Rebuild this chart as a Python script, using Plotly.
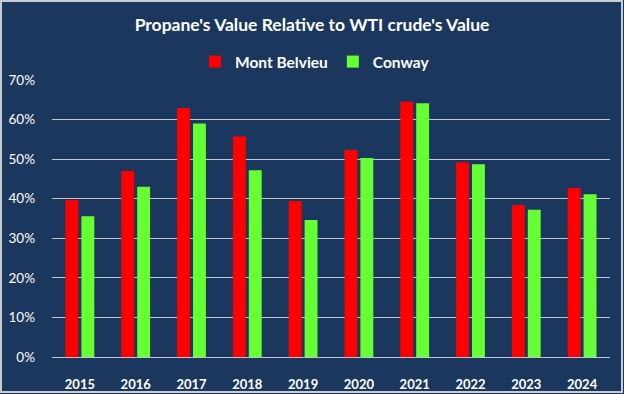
import plotly.graph_objects as go

years = ["2015", "2016", "2017", "2018", "2019", "2020", "2021", "2022", "2023", "2024"]
mont_belvieu = [0.397, 0.470, 0.629, 0.557, 0.394, 0.523, 0.645, 0.492, 0.384, 0.427]
conway = [0.356, 0.430, 0.590, 0.472, 0.346, 0.503, 0.641, 0.487, 0.372, 0.411]
y_ticks = [0, 0.1, 0.2, 0.3, 0.4, 0.5, 0.6, 0.7]

W, H = 624, 394
ML, MR, MT, MB = 52, 14, 80, 37
BG = "#1C375E"
FONT = "Lato, Roboto, Liberation Sans, Arial"
pw, ph = W - ML - MR, H - MT - MB

fig = go.Figure()
fig.add_trace(go.Bar(name="<b>Mont Belvieu</b>", x=years, y=mont_belvieu, marker=dict(color="#FF0000", line=dict(width=0))))
fig.add_trace(go.Bar(name="<b>Conway</b>", x=years, y=conway, marker=dict(color="#66FF33", line=dict(width=0))))

fig.update_layout(
    width=W, height=H,
    margin=dict(l=ML, r=MR, t=MT, b=MB, autoexpand=False),
    paper_bgcolor=BG, plot_bgcolor=BG,
    barmode="group", bargap=0.43, bargroupgap=0.19,
    title=dict(text="<b>Propane's Value Relative to WTI crude's Value</b>",
               x=0.5, xanchor="center", y=1 - 25 / H, yanchor="middle",
               font=dict(family=FONT, size=17.5, color="white")),
    legend=dict(orientation="h", xref="container", x=315 / W, xanchor="center", yref="container",
                y=1 - 62 / H, yanchor="middle",
                font=dict(family=FONT, size=15.5, color="white"), bgcolor="rgba(0,0,0,0)",
                itemwidth=30, traceorder="normal"),
    font=dict(family=FONT, color="white"),
    xaxis=dict(showgrid=False, tickfont=dict(family=FONT, size=13, color="white"), automargin=False,
               ticklabelstandoff=18, showline=False, tickprefix="<b>", ticksuffix="</b>"),
    yaxis=dict(range=[0, 0.7], tickvals=y_ticks, tickformat=".0%", automargin=False,
               tickfont=dict(family=FONT, size=13.5, color="white"),
               gridcolor="#BFC6D0", gridwidth=1.3, zeroline=True, zerolinecolor="#BFC6D0", zerolinewidth=1.3,
               ticklabelstandoff=16, tickprefix="<b>", ticksuffix="</b>"),
    showlegend=True,
)

# outer frame
fig.add_shape(type="rect", xref="paper", yref="paper",
              x0=(-ML + 1) / pw, x1=1 + (MR - 2) / pw, y0=(-MB + 2) / ph, y1=1 + (MT - 1) / ph,
              line=dict(color="#C8CCD2", width=2), fillcolor="rgba(0,0,0,0)", layer="above")

fig.write_html("out.html", config={"displayModeBar": False},
               post_script="document.body.style.margin='0';document.body.style.overflow='hidden';")
